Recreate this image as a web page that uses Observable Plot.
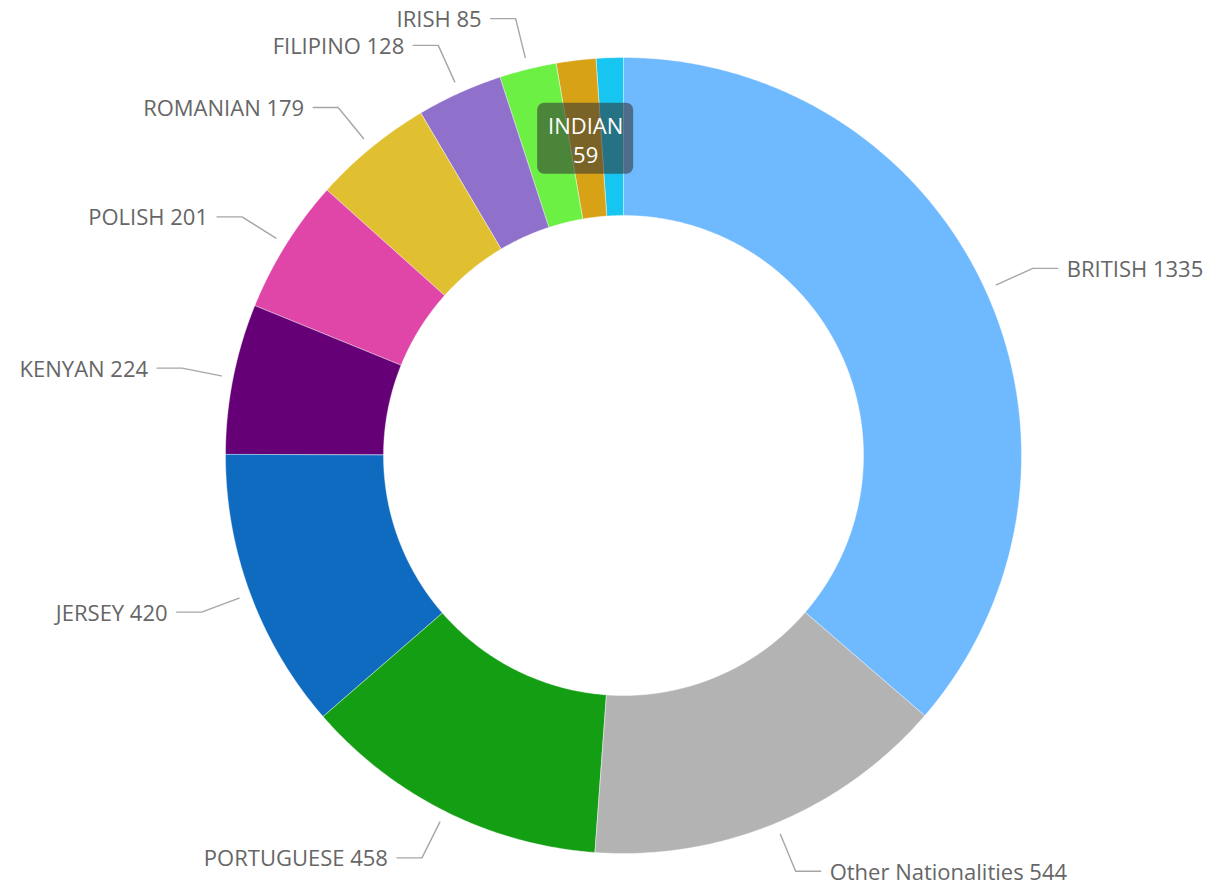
<!DOCTYPE html>
<html>
<head>
<meta charset="utf-8">
<script src="https://cdn.jsdelivr.net/npm/d3@7"></script>
<script src="https://cdn.jsdelivr.net/npm/@observablehq/plot@0.6"></script>
<style>
  html, body { margin: 0; padding: 0; background: #ffffff; }
  #chart svg { display: block; }
</style>
</head>
<body>
<div id="chart"></div>
<script>
// ---- data ----
const nationalities = ["BRITISH", "Other Nationalities", "PORTUGUESE", "JERSEY", "KENYAN", "POLISH", "ROMANIAN", "FILIPINO", "IRISH", "INDIAN", "(unlabelled)"];
const counts = [1335, 544, 458, 420, 224, 201, 179, 128, 85, 59, 40];
const labelPlacement = ["outside", "outside", "outside", "outside", "outside", "outside", "outside", "outside", "outside", "inside", "none"];
const sliceColors = ["#6fb9ff", "#b3b3b3", "#139e13", "#0f6bc0", "#660077", "#e046a8", "#e0c030", "#8f70cb", "#6cf044", "#d8a216", "#17c6f0"];

// ---- layout ----
const W = 1217, H = 886;
const cx = 623, cy = 455, R = 398, rIn = 240;
const innerRatio = rIn / R;
const px = v => v / R; // pixels -> data units
const FONT = 22;

const slices = nationalities.map((name, i) => ({name, value: counts[i], placement: labelPlacement[i]}));
const arcs = d3.pie().sort(null).value(d => d.value).startAngle(0).endAngle(2 * Math.PI)(slices);

// polygon points for each donut slice (angles clockwise from 12 o'clock)
const polyPts = [];
for (const a of arcs) {
  const n = Math.max(4, Math.ceil((a.endAngle - a.startAngle) / (Math.PI / 360)));
  for (let k = 0; k <= n; k++) {
    const t = a.startAngle + (a.endAngle - a.startAngle) * k / n;
    polyPts.push({name: a.data.name, x: Math.sin(t), y: Math.cos(t)});
  }
  for (let k = n; k >= 0; k--) {
    const t = a.startAngle + (a.endAngle - a.startAngle) * k / n;
    polyPts.push({name: a.data.name, x: innerRatio * Math.sin(t), y: innerRatio * Math.cos(t)});
  }
}

// leader lines and outside labels
const leaderPts = [];
const outLabels = [];
for (const a of arcs.filter(a => a.data.placement === "outside")) {
  const m = (a.startAngle + a.endAngle) / 2;
  const side = Math.sin(m) >= 0 ? 1 : -1;
  const r1 = px(R + 12), r2 = px(R + 52);
  const ex = r2 * Math.sin(m), ey = r2 * Math.cos(m);
  leaderPts.push({name: a.data.name, x: r1 * Math.sin(m), y: r1 * Math.cos(m)});
  leaderPts.push({name: a.data.name, x: ex, y: ey});
  leaderPts.push({name: a.data.name, x: ex + side * px(25), y: ey});
  outLabels.push({text: `${a.data.name} ${a.data.value}`, x: ex + side * px(34), y: ey - px(1.5), side});
}

// inside label (boxed)
const inLabels = arcs.filter(a => a.data.placement === "inside").map(a => {
  const m = (a.startAngle + a.endAngle) / 2;
  const r = (1 + innerRatio) / 2;
  return {text: `${a.data.name}\n${a.data.value}`, x: r * Math.sin(m), y: r * Math.cos(m)};
});

const plot = Plot.plot({
  width: W,
  height: H,
  margin: 0,
  x: {domain: [-cx / R, (W - cx) / R], axis: null},
  y: {domain: [-(H - cy) / R, cy / R], axis: null},
  color: {domain: nationalities, range: sliceColors},
  style: {fontFamily: "'Open Sans', 'Noto Sans', sans-serif", fontSize: FONT + "px", background: "#ffffff"},
  marks: [
    Plot.line(polyPts, {x: "x", y: "y", z: "name", fill: "name", stroke: "#ffffff", strokeWidth: 0.4, curve: "linear-closed"}),
    Plot.line(leaderPts, {x: "x", y: "y", z: "name", stroke: "#a6a6a6", strokeWidth: 1.4}),
    Plot.text(outLabels.filter(d => d.side > 0), {x: "x", y: "y", text: "text", textAnchor: "start", fill: "#666666", fontSize: FONT}),
    Plot.text(outLabels.filter(d => d.side < 0), {x: "x", y: "y", text: "text", textAnchor: "end", fill: "#666666", fontSize: FONT}),
    Plot.rect(inLabels, {x1: d => d.x - px(48), x2: d => d.x + px(48), y1: d => d.y - px(35.5), y2: d => d.y + px(35.5), fill: "#333333", fillOpacity: 0.57, rx: 7}),
    Plot.text(inLabels, {x: "x", y: "y", text: "text", fill: "#ffffff", fontSize: FONT, lineHeight: 1.32})
  ]
});
document.getElementById("chart").appendChild(plot);
</script>
</body>
</html>
